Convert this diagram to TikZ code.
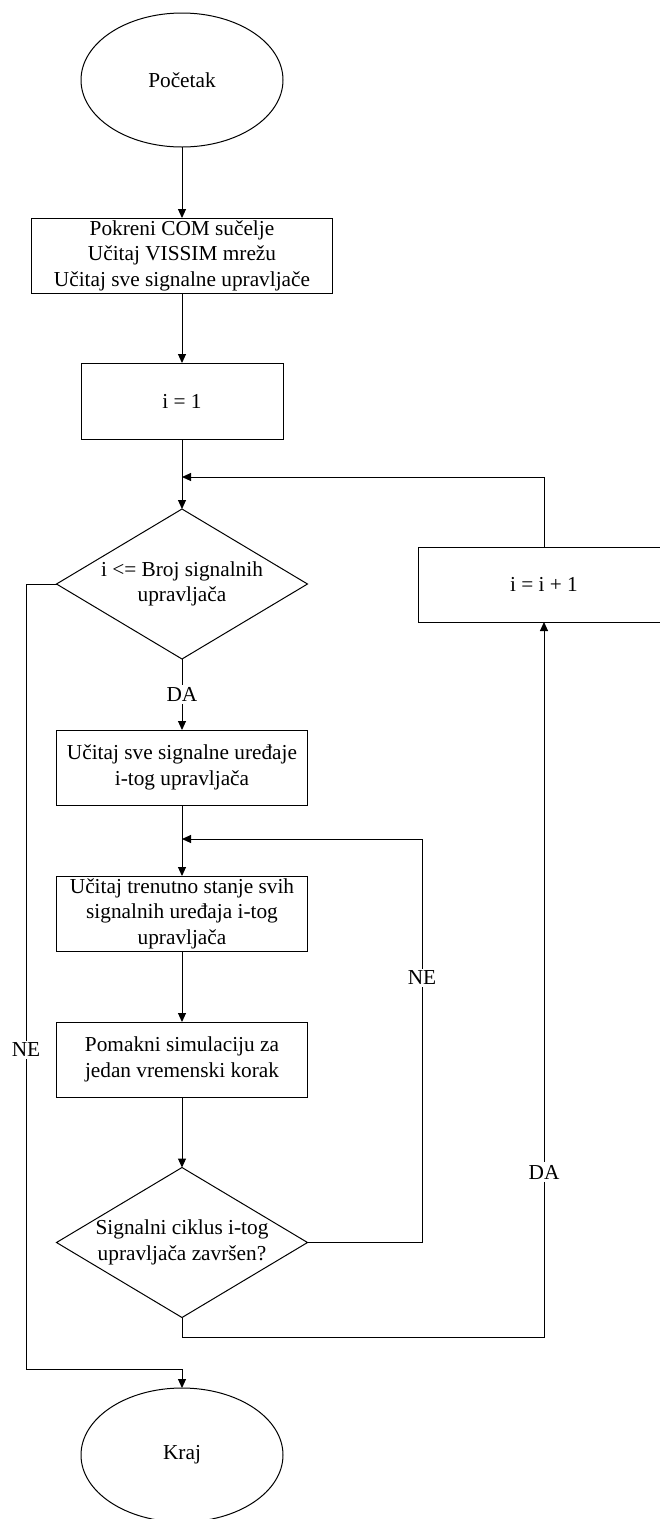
\documentclass[tikz,border=0pt]{standalone}
\usepackage{fontspec}
\setmainfont{Liberation Serif}
\usetikzlibrary{shapes.geometric,arrows.meta}
\begin{document}
\begin{tikzpicture}[x=1pt,y=-1pt,line width=1pt,
  every node/.style={font=\fontsize{21.3}{25.5}\selectfont, align=center, inner sep=0pt, outer sep=0pt},
  term/.style={draw, ellipse, minimum width=202pt, minimum height=134pt},
  proc/.style={draw, rectangle, minimum width=251pt, minimum height=75pt},
  dec/.style={draw, diamond, aspect=1.673, minimum width=251pt, minimum height=150pt},
  lbl/.style={fill=white, inner sep=2.5pt},
  arr/.style={-{Triangle[length=9pt,width=8pt]}}
]
\useasboundingbox (0,0) rectangle (660,1519);
\fill[white] (0,0) rectangle (660,1519);

\node[term] (start) at (182,80) {Početak};
\node[proc, minimum width=301pt] (b1) at (182,255.5) {Pokreni COM sučelje\\Učitaj VISSIM mrežu\\Učitaj sve signalne upravljače};
\node[proc, minimum width=202pt, minimum height=76pt] (b2) at (182,401) {i = 1};
\node[dec] (d1) at (182,584) {i <= Broj signalnih\\upravljača};
\node[proc] (b3) at (182,767.5) {Učitaj sve signalne uređaje\\i-tog upravljača};
\node[proc] (b4) at (182,913.5) {Učitaj trenutno stanje svih\\signalnih uređaja i-tog\\upravljača};
\node[proc] (b5) at (182,1059.5) {Pomakni simulaciju za\\jedan vremenski korak};
\node[dec] (d2) at (182,1242.5) {Signalni ciklus i-tog\\upravljača završen?};
\node[term] (end) at (182,1455) {Kraj};
\node[proc, minimum width=251pt] (inc) at (544,584.5) {i = i + 1};

\coordinate (j1) at (182,477);
\coordinate (j2) at (182,839);
\coordinate (neR) at (422,839);
\coordinate (neL) at (26,1369);

\draw[arr] (start.south) -- (b1.north);
\draw[arr] (b1.south) -- (b2.north);
\draw[arr] (b2.south) -- (d1.north);
\draw[arr] (inc.north) |- (j1);
\draw[arr] (d1.south) -- node[lbl] (da1) {DA} (b3.north);
\draw[arr] (b3.south) -- (b4.north);
\draw[arr] (b4.south) -- (b5.north);
\draw[arr] (b5.south) -- (d2.north);
\draw[arr] (d2.east) -| (neR) -- (j2);
\draw[arr] (d2.south) -- ++(0,20) -| (inc.south);
\draw[arr] (d1.west) -| (neL) -| (end.north);

\node[lbl] (ne1) at (422,978) {NE};
\node[lbl] (da2) at (544,1172) {DA};
\node[lbl] (ne2) at (26,1050) {NE};
\end{tikzpicture}
\end{document}
